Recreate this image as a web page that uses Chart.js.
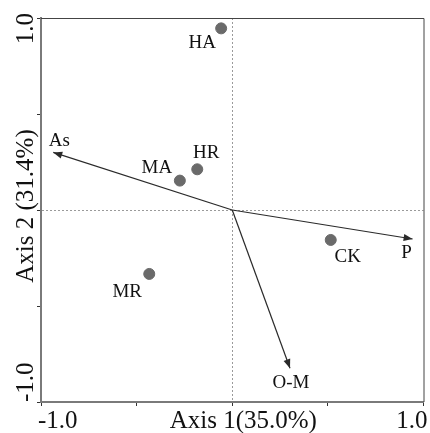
<!DOCTYPE html>
<html>
<head>
<meta charset="utf-8">
<script src="https://cdn.jsdelivr.net/npm/chart.js@4/dist/chart.umd.min.js"></script>
<style>
  html, body { margin: 0; padding: 0; background: #fff; }
  #wrap { width: 430px; height: 433px; }
</style>
</head>
<body>
<div id="wrap"><canvas id="chart"></canvas></div>
<script>
// sample scores
const siteNames = ['HA', 'HR', 'MA', 'MR', 'CK'];
const siteX = [-0.058, -0.183, -0.274, -0.434, 0.515];
const siteY = [0.946, 0.212, 0.153, -0.333, -0.156];

// environmental vectors
const varNames = ['As', 'P', 'O-M'];
const varX = [-0.936, 0.943, 0.302];
const varY = [0.300, -0.151, -0.824];

const xTitle = 'Axis 1(35.0%)';
const yTitle = 'Axis 2 (31.4%)';
const tickText = ['-1.0', '1.0'];

// label offsets in px (style only)
const siteOff = [[-19, 20], [9, -11], [-23, -8], [-22, 23], [17, 22]];
const varOff = [[6, -6], [-6, 19], [1, 20]];

const serif = '"Liberation Serif", "Times New Roman", serif';

const datasets = [{
    type: 'scatter',
    data: siteX.map((x, i) => ({x: x, y: siteY[i]})),
    backgroundColor: '#6a6a6a',
    borderColor: '#6a6a6a',
    pointRadius: 5.5,
    pointHoverRadius: 5.5
}];
for (let i = 0; i < varNames.length; i++) {
    datasets.push({
        type: 'line',
        data: [{x: 0, y: 0}, {x: varX[i], y: varY[i]}],
        borderColor: '#2a2a2a',
        borderWidth: 1.2,
        pointRadius: 0,
        fill: false
    });
}

const extras = {
    id: 'extras',
    afterDatasetsDraw(chart) {
        const ctx = chart.ctx;
        const xs = chart.scales.x, ys = chart.scales.y;
        const a = chart.chartArea;
        ctx.save();

        // top / right frame
        ctx.strokeStyle = '#444';
        ctx.lineWidth = 1;
        ctx.beginPath();
        ctx.moveTo(a.left, a.top + 0.5);
        ctx.lineTo(a.right + 0.5, a.top + 0.5);
        ctx.lineTo(a.right + 0.5, a.bottom);
        ctx.stroke();

        // arrowheads
        ctx.fillStyle = '#2a2a2a';
        for (let i = 0; i < varNames.length; i++) {
            const px = xs.getPixelForValue(varX[i]);
            const py = ys.getPixelForValue(varY[i]);
            const ang = Math.atan2(py - ys.getPixelForValue(0), px - xs.getPixelForValue(0));
            const L = 9, W = 3.5;
            ctx.beginPath();
            ctx.moveTo(px, py);
            ctx.lineTo(px - L * Math.cos(ang) + W * Math.sin(ang), py - L * Math.sin(ang) - W * Math.cos(ang));
            ctx.lineTo(px - L * Math.cos(ang) - W * Math.sin(ang), py - L * Math.sin(ang) + W * Math.cos(ang));
            ctx.closePath();
            ctx.fill();
        }

        // point / vector labels
        ctx.fillStyle = '#111';
        ctx.font = '19px ' + serif;
        ctx.textAlign = 'center';
        ctx.textBaseline = 'alphabetic';
        siteNames.forEach((n, i) => {
            ctx.fillText(n, xs.getPixelForValue(siteX[i]) + siteOff[i][0], ys.getPixelForValue(siteY[i]) + siteOff[i][1]);
        });
        varNames.forEach((n, i) => {
            ctx.fillText(n, xs.getPixelForValue(varX[i]) + varOff[i][0], ys.getPixelForValue(varY[i]) + varOff[i][1]);
        });

        // x axis texts
        ctx.font = '25px ' + serif;
        const base = a.bottom + 26;
        ctx.textAlign = 'left';
        ctx.fillText(tickText[0], xs.getPixelForValue(-1) - 3, base);
        ctx.textAlign = 'right';
        ctx.fillText(tickText[1], xs.getPixelForValue(1) + 4, base);
        ctx.textAlign = 'center';
        ctx.fillText(xTitle, (a.left + a.right) / 2 + 11, base);

        // y axis texts (rotated)
        ctx.save();
        ctx.translate(33, 0);
        ctx.rotate(-Math.PI / 2);
        ctx.textAlign = 'right';
        ctx.fillText(tickText[1], -(ys.getPixelForValue(1) - 5), 0);
        ctx.textAlign = 'left';
        ctx.fillText(tickText[0], -ys.getPixelForValue(-1), 0);
        ctx.textAlign = 'center';
        ctx.fillText(yTitle, -((a.top + a.bottom) / 2 - 4), 0);
        ctx.restore();

        ctx.restore();
    }
};

const gridOpts = {
    color: c => (c.tick && c.tick.value === 0) ? '#9a9a9a' : 'rgba(0,0,0,0)',
    lineWidth: 1,
    drawTicks: true,
    tickLength: 4,
    tickColor: '#333'
};

new Chart(document.getElementById('chart'), {
    data: {datasets: datasets},
    options: {
        responsive: true,
        maintainAspectRatio: false,
        animation: false,
        layout: {padding: {top: 18, right: 4, left: 0, bottom: 0}},
        plugins: {legend: {display: false}, tooltip: {enabled: false}},
        scales: {
            x: {
                type: 'linear', min: -1, max: 1,
                ticks: {display: false, stepSize: 0.5},
                grid: gridOpts,
                border: {display: true, color: '#7a7a7a', width: 2, dash: [2, 2], dashOffset: 0},
                afterFit: s => { s.height = 31; }
            },
            y: {
                type: 'linear', min: -1, max: 1,
                ticks: {display: false, stepSize: 0.5},
                grid: gridOpts,
                border: {display: true, color: '#7a7a7a', width: 2, dash: [2, 2]},
                afterFit: s => { s.width = 41; }
            }
        }
    },
    plugins: [extras]
});
</script>
</body>
</html>
